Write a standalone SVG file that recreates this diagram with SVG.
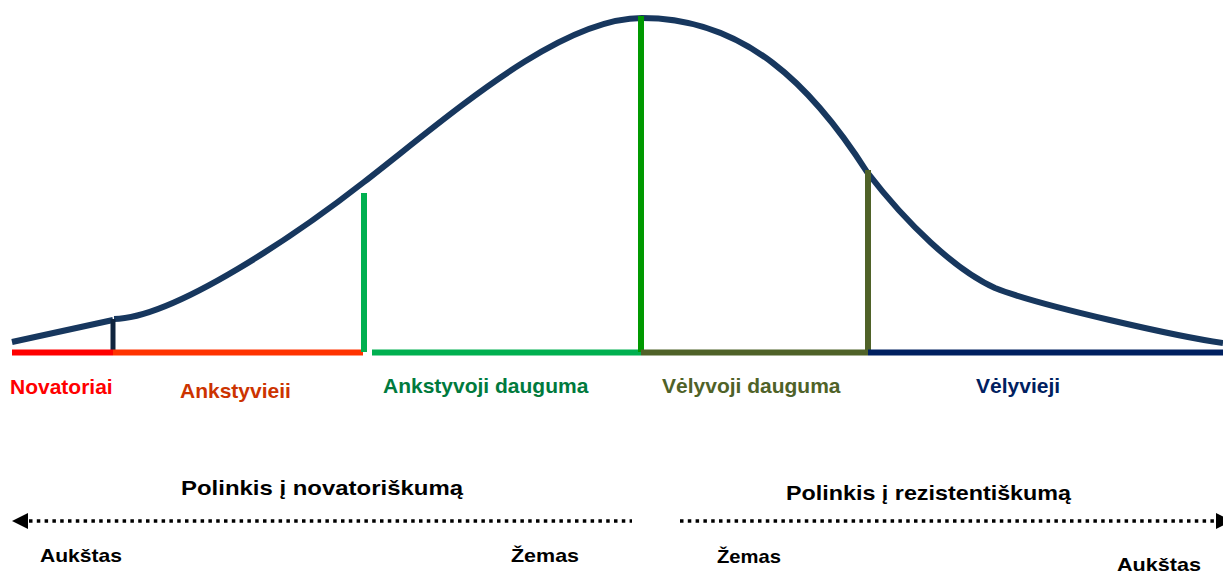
<svg xmlns="http://www.w3.org/2000/svg" width="1223" height="574" viewBox="0 0 1223 574">
<style>
text{font-family:"Liberation Sans",Arial,sans-serif;font-weight:bold}
.lbl{font-size:21px}
.head{font-size:21px;fill:#000}
.small{font-size:19px;fill:#000}
.seg{stroke-width:6;fill:none;stroke-linecap:butt}
.curve{stroke:#17375e;stroke-width:6;fill:none}
.dots{stroke:#000;stroke-width:3.5;stroke-dasharray:3.5 4.3;fill:none}
</style>
<rect width="1223" height="574" fill="#fff"/>
<g id="curve">
<path class="curve" d="M12,342 L113,320"/>
<path class="curve" d="M114,319 C175,318 300,232 364,182 C454,112 560,18 642,18 C745,18 812,86 867,172 C907,224 955,270 995,288 C1040,306 1180,337 1223,343"/>
<line x1="113" y1="319" x2="113" y2="352" stroke="#0f243e" stroke-width="5"/>
</g>
<g id="segments">
<line class="seg" x1="12" y1="352.5" x2="113" y2="352.5" stroke="#ff0000"/>
<line class="seg" x1="113" y1="352.5" x2="363" y2="352.5" stroke="#ff3300"/>
<line class="seg" x1="364" y1="193" x2="364" y2="352" stroke="#00b050"/>
<line class="seg" x1="372" y1="352.5" x2="641" y2="352.5" stroke="#00b050"/>
<line class="seg" x1="641" y1="16" x2="641" y2="352" stroke="#009900"/>
<line class="seg" x1="641" y1="352.5" x2="868" y2="352.5" stroke="#4f6228"/>
<line class="seg" x1="868" y1="170" x2="868" y2="352" stroke="#4f6228"/>
<line class="seg" x1="868" y1="352.5" x2="1223" y2="352.5" stroke="#002060"/>
</g>
<g id="labels">
<text id="novatoriai" class="lbl" x="10" y="394" fill="#ff0000">Novatoriai</text>
<text id="ankstyvieji" class="lbl" x="180" y="398" fill="#cc3300">Ankstyvieii</text>
<text id="ankstyvoji" class="lbl" x="383" y="393" fill="#007a3d">Ankstyvoji dauguma</text>
<text id="velyvoji" class="lbl" x="662" y="393" fill="#4f6228">Vėlyvoji dauguma</text>
<text id="velyvieji" class="lbl" x="976" y="393" fill="#002060">Vėlyvieji</text>
</g>
<g id="connectors">
<line class="dots" x1="29" y1="521" x2="632" y2="521"/>
<polygon points="12,521 28,513 28,529" fill="#000"/>
<line class="dots" x1="680" y1="521" x2="1216" y2="521"/>
<polygon points="1232,521 1216,513 1216,529" fill="#000"/>
</g>
<g id="scale-left">
<text class="head" x="181" y="495" textLength="282" lengthAdjust="spacingAndGlyphs">Polinkis į novatoriškumą</text>
<text class="small" x="40" y="562" textLength="82" lengthAdjust="spacingAndGlyphs">Aukštas</text>
<text class="small" x="511" y="562" textLength="68" lengthAdjust="spacingAndGlyphs">Žemas</text>
</g>
<g id="scale-right">
<text class="head" x="786" y="500" textLength="285" lengthAdjust="spacingAndGlyphs">Polinkis į rezistentiškumą</text>
<text class="small" x="717" y="563" textLength="64" lengthAdjust="spacingAndGlyphs">Žemas</text>
<text class="small" x="1117" y="571" textLength="84" lengthAdjust="spacingAndGlyphs">Aukštas</text>
</g>
</svg>
